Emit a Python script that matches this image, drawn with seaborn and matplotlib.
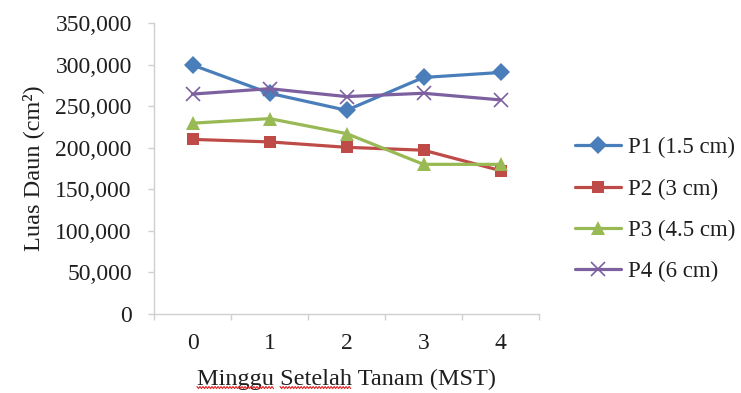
import matplotlib
matplotlib.use("Agg")
import matplotlib.pyplot as plt
import matplotlib.ticker as mticker
from matplotlib.lines import Line2D
import numpy as np
import pandas as pd
import seaborn as sns

# Leaf area per treatment over weeks after planting
weeks = [0, 1, 2, 3, 4]
p1 = [299500, 265500, 245000, 284500, 290500]
p2 = [210000, 207000, 200500, 197000, 172500]
p3 = [229500, 235000, 217000, 180000, 180000]
p4 = [264500, 271000, 261500, 265500, 257500]
series_names = ["P1 (1.5 cm)", "P2 (3 cm)", "P3 (4.5 cm)", "P4 (6 cm)"]
y_ticks = [0, 50000, 100000, 150000, 200000, 250000, 300000, 350000]

colors = ["#4A7EBB", "#BE4B48", "#98B954", "#7D60A0"]
markers = ["D", "s", "^", "x"]
msizes = [9, 9, 10, 10]
FS_LABEL = 17.5
FS_TICK = 17
FS_LEG = 16.5

df = pd.DataFrame({
    "MST": weeks * 4,
    "Luas": p1 + p2 + p3 + p4,
    "Perlakuan": sum([[n] * len(weeks) for n in series_names], []),
})

sns.set_theme(style="white")
plt.rcParams["font.family"] = ["Liberation Serif", "DejaVu Serif"]
text_color = "#1f1f1f"

W, H = 741, 393
fig = plt.figure(figsize=(W / 100, H / 100), dpi=100)
ax = fig.add_axes([154 / W, 1 - 314 / H, (539 - 154) / W, (314 - 23) / H])

# seaborn won't mix filled and line-art markers, so the cross is applied afterwards
sns.lineplot(
    data=df, x="MST", y="Luas", hue="Perlakuan", style="Perlakuan",
    palette=colors, markers=["D", "s", "^", "o"], dashes=False, linewidth=2.3,
    ax=ax, legend=False,
)
for line, ms, c, m in zip(ax.lines, msizes, colors, markers):
    line.set_marker(m)
    line.set_markersize(ms)
    line.set_markeredgecolor(c)
    line.set_markerfacecolor(c)
    line.set_markeredgewidth(1.2 if m == "x" else 0)

ax.set_xlim(-0.5, 4.5)
ax.set_ylim(0, 350000)
ax.set_yticks(y_ticks)
ax.yaxis.set_major_formatter(mticker.FuncFormatter(lambda v, p: f"{int(v):,}"))
ax.set_xticks(weeks)
ax.set_xticks([w - 0.5 for w in weeks] + [weeks[-1] + 0.5], minor=True)
ax.tick_params(axis="x", which="major", length=0, pad=14, labelsize=FS_TICK, labelcolor=text_color)
ax.tick_params(axis="x", which="minor", length=4, width=1, color="#d0d0d0", bottom=True)
ax.tick_params(axis="y", which="major", length=4, width=1, color="#d0d0d0", pad=12,
               labelsize=FS_TICK, labelcolor=text_color, left=True)

for side in ["top", "right"]:
    ax.spines[side].set_visible(False)
for side in ["left", "bottom"]:
    ax.spines[side].set_color("#d0d0d0")
    ax.spines[side].set_linewidth(1)

ax.set_xlabel("Minggu Setelah Tanam (MST)", fontsize=FS_LABEL, color=text_color, labelpad=10)
ax.set_ylabel("Luas Daun (cm²)", fontsize=FS_LABEL, color=text_color, labelpad=8)

handles = [
    Line2D([], [], color=c, marker=m, markersize=ms, linewidth=2.3,
           markeredgecolor=c, markeredgewidth=(1.2 if m == "x" else 0))
    for c, m, ms in zip(colors, markers, msizes)
]
fig.legend(handles, series_names, loc="center left", bbox_to_anchor=(575 / W, 1 - 209.5 / H),
           frameon=False, fontsize=FS_LEG, handlelength=2.0, handletextpad=0.3,
           labelspacing=0.87, labelcolor=text_color, borderpad=0, borderaxespad=0)

# spell-check style wavy underline below the first two words of the x label
fig.canvas.draw()
renderer = fig.canvas.get_renderer()
lab = ax.xaxis.label
bb = lab.get_window_extent(renderer)


def text_width(s):
    t = fig.text(0, 0, s, fontsize=FS_LABEL, family=lab.get_fontfamily())
    w = t.get_window_extent(renderer).width
    t.remove()
    return w


x0 = bb.x0
for word_start, word in [("", "Minggu"), ("Minggu ", "Setelah")]:
    xa = x0 + text_width(word_start) if word_start else x0
    xb = x0 + text_width(word_start + word)
    xs = np.arange(xa, xb + 0.1, 1.5)
    ys = bb.y0 + 2 + np.where(np.arange(len(xs)) % 2 == 0, 1.0, -1.0)
    fig.add_artist(Line2D(xs / W, ys / H, transform=fig.transFigure,
                          color="#e02020", linewidth=0.8))

fig.savefig("out.png", dpi=100)
